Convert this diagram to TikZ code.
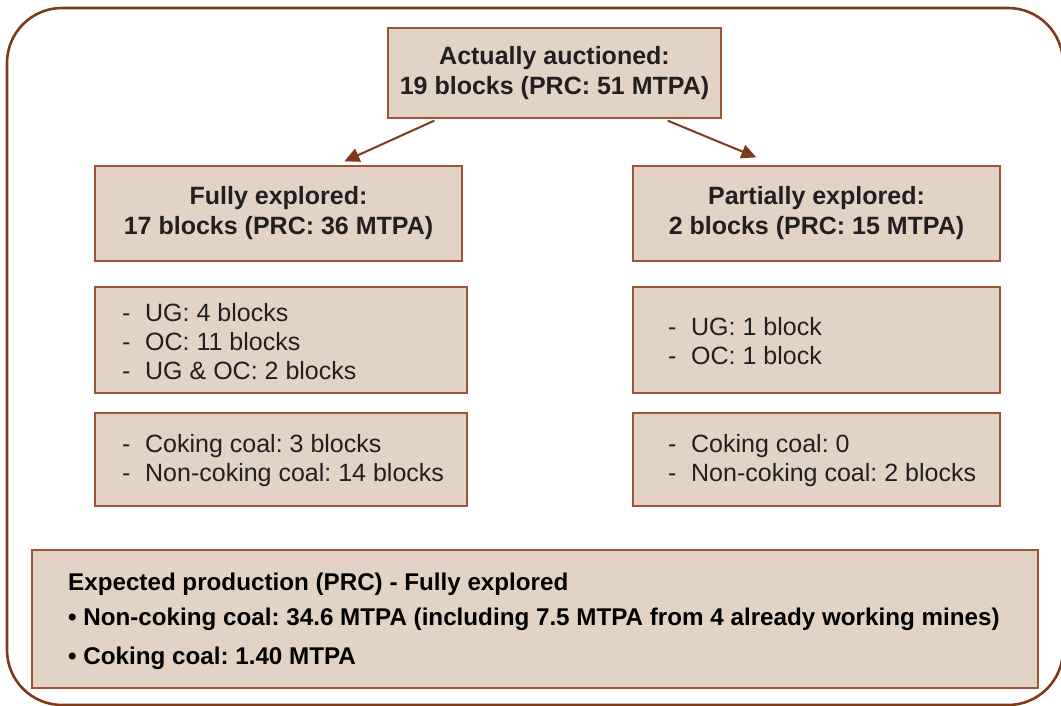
\documentclass[tikz,border=0pt]{standalone}
\usepackage{fontspec}
\setmainfont{Liberation Sans}
\usetikzlibrary{arrows.meta}
\frenchspacing
\definecolor{boxfill}{HTML}{E3D3C4}
\definecolor{boxline}{HTML}{9A5636}
\definecolor{outerline}{HTML}{7E3A1A}
\definecolor{txt}{HTML}{231F20}
\tikzset{
  box/.style={draw=boxline, fill=boxfill, line width=1.3pt, inner sep=0pt},
  headtxt/.style={text=txt, align=center, font=\bfseries\fontsize{25}{30}\selectfont},
  listtxt/.style={text=txt, align=left, inner sep=0pt, font=\fontsize{25}{28.8}\selectfont},
  bottxt/.style={text=black, align=left, inner sep=0pt, anchor=base west, font=\bfseries\fontsize{24.2}{28}\selectfont},
  arr/.style={draw=outerline, line width=2pt, -{Triangle[length=15pt,width=14pt]}}
}
\newcommand{\dashitem}[1]{\makebox[23pt][l]{-}#1}
\begin{document}
\begin{tikzpicture}[x=1pt,y=-1pt]
\useasboundingbox (0,0) rectangle (1061,706);
\fill[white] (0,0) rectangle (1061,706);
\draw[outerline, line width=2.6pt, rounded corners=55pt] (7,8) rectangle (1063,705);

% top box
\node[box, headtxt, minimum width=333pt, minimum height=90pt] (top) at (554.5,73)
  {Actually auctioned:\\19 blocks (PRC: 51 MTPA)};
% level 2
\node[box, headtxt, minimum width=367pt, minimum height=95pt] (fully) at (278.5,213.5)
  {Fully explored:\\17 blocks (PRC: 36 MTPA)};
\node[box, headtxt, minimum width=367pt, minimum height=95pt] (partial) at (816.5,213.5)
  {Partially explored:\\2 blocks (PRC: 15 MTPA)};
% lists
\node[box, minimum width=372pt, minimum height=106pt] (l1) at (281,340) {};
\node[box, minimum width=367pt, minimum height=106pt] (r1) at (816.5,340) {};
\node[box, minimum width=372pt, minimum height=93pt] (l2) at (281,459.5) {};
\node[box, minimum width=367pt, minimum height=93pt] (r2) at (816.5,459.5) {};

% anchor base = baseline of the last line
\node[listtxt, anchor=base west] (l1t) at (122,379)
  {\dashitem{UG: 4 blocks}\\\dashitem{OC: 11 blocks}\\\dashitem{UG \& OC: 2 blocks}};
\node[listtxt, anchor=base west] (r1t) at (668,364)
  {\dashitem{UG: 1 block}\\\dashitem{OC: 1 block}};
\node[listtxt, anchor=base west] (l2t) at (122,481)
  {\dashitem{Coking coal: 3 blocks}\\\dashitem{Non-coking coal: 14 blocks}};
\node[listtxt, anchor=base west] (r2t) at (668,481)
  {\dashitem{Coking coal: 0}\\\dashitem{Non-coking coal: 2 blocks}};

% bottom box
\node[box, minimum width=1006pt, minimum height=138pt] (bot) at (535,619) {};
\node[bottxt] (b1) at (68,590.5) {Expected production (PRC) - Fully explored};
\node[bottxt] (b2) at (68,625) {• Non-coking coal: 34.6 MTPA (including 7.5 MTPA from 4 already working mines)};
\node[bottxt] (b3) at (68,664) {• Coking coal: 1.40 MTPA};

% arrows
\draw[arr] ([shift={(47,2)}]top.south west) -- ([shift={(250,-4)}]fully.north west);
\draw[arr] ([shift={(-54,2)}]top.south east) -- ([shift={(124,-8)}]partial.north west);
\end{tikzpicture}
\end{document}
